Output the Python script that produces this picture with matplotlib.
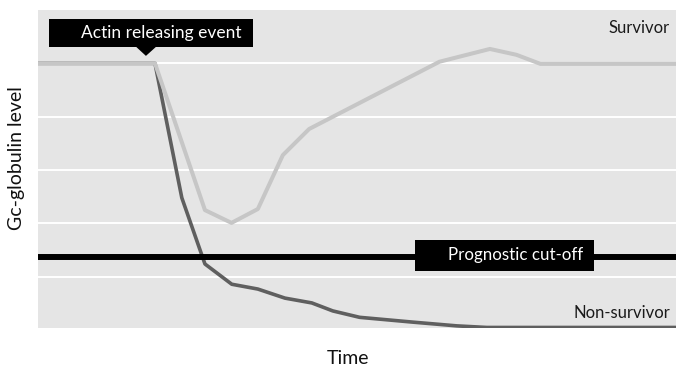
import matplotlib
matplotlib.use("Agg")
import matplotlib.pyplot as plt
from matplotlib.patches import Rectangle, Polygon

plt.rcParams['font.family'] = ['Lato', 'DejaVu Sans']

# Data (time in arbitrary units, level in arbitrary units)
surv_t = [0, 4.4, 6.28, 7.28, 8.27, 9.21, 10.2, 15.1, 17.0, 18.0, 18.9, 24.0]
surv_y = [5.0, 5.0, 2.25, 2.01, 2.27, 3.28, 3.77, 5.03, 5.27, 5.16, 4.99, 4.99]

non_t = [0, 4.4, 5.41, 6.28, 7.29, 8.27, 9.29, 10.3, 11.09, 12.1, 14.1, 15.75, 16.88, 24.0]
non_y = [5.0, 5.0, 2.48, 1.24, 0.86, 0.77, 0.60, 0.51, 0.36, 0.24, 0.15, 0.08, 0.05, 0.05]

cutoff = 1.365
event_t = 4.06
grid_levels = [1, 2, 3, 4, 5]

fig = plt.figure(figsize=(6.76, 3.70), dpi=100)
ax = fig.add_axes([38/676, 42/370, 1 - 38/676, 318/370])
ax.set_facecolor('#e5e5e5')
ax.set_xlim(0, 24)
ax.set_ylim(0.04, 6.0)
for g in grid_levels:
    ax.axhline(g, color='white', lw=1.4, zorder=1)
for s in ax.spines.values():
    s.set_visible(False)
ax.set_xticks([])
ax.set_yticks([])

ax.plot(non_t, non_y, color='#5f5f5f', lw=2.6, zorder=3, solid_joinstyle='round')
ax.plot(surv_t, surv_y, color='#c6c6c6', lw=2.9, zorder=4, solid_joinstyle='round')
ax.axhline(cutoff, color='black', lw=4.3, zorder=5)

# Actin releasing event label box with pointer
ax.add_patch(Rectangle((0.414, 5.30), 8.09 - 0.414, 5.83 - 5.30, fc='black', ec='none', zorder=6))
ax.add_patch(Polygon([(3.69, 5.31), (4.44, 5.31), (event_t, 5.14)], closed=True,
                     fc='black', ec='none', zorder=6))
ax.text(7.67, 5.575, 'Actin releasing event', color='white', fontsize=12.5,
        ha='right', va='center', zorder=7)

# Prognostic cut-off label box
ax.add_patch(Rectangle((14.18, 1.108), 20.92 - 14.18, 1.69 - 1.108, fc='black', ec='none', zorder=6))
ax.text(20.5, 1.40, 'Prognostic cut-off', color='white', fontsize=12.2,
        ha='right', va='center', zorder=7)

ax.text(23.77, 5.66, 'Survivor', color='#1a1a1a', fontsize=12, ha='right', va='center', zorder=6)
ax.text(23.77, 0.32, 'Non-survivor', color='#1a1a1a', fontsize=12, ha='right', va='center', zorder=6)

fig.text(347.5/676, 1 - 358.5/370, 'Time', fontsize=14, ha='center', va='center', color='#111111')
fig.text(16.5/676, 1 - 158/370, 'Gc-globulin level', fontsize=14, ha='center', va='center',
         rotation=90, color='#111111')

fig.savefig('out.png', dpi=100)
